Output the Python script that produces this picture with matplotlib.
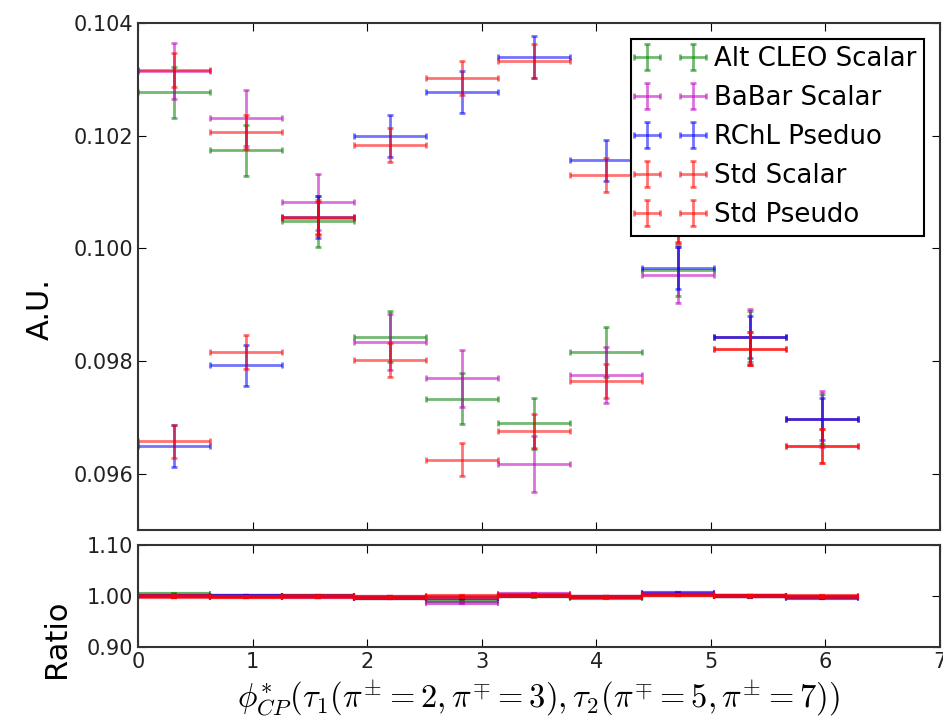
import numpy as np
import matplotlib
matplotlib.use("Agg")
import matplotlib.pyplot as plt
from matplotlib.ticker import FormatStrFormatter

plt.rcParams["font.family"] = ["DejaVu Sans"]
plt.rcParams["mathtext.fontset"] = "cm"

# bin edges: 10 bins over [0, 2pi]
bin_edges = np.linspace(0, 2 * np.pi, 11)
bin_centers = 0.5 * (bin_edges[:-1] + bin_edges[1:])
half_width = 0.5 * (bin_edges[1] - bin_edges[0])

labels = ["Alt CLEO Scalar", "BaBar Scalar", "RChL Pseduo", "Std Scalar", "Std Pseudo"]
colors = ["g", "m", "b", "r", "r"]

alt_cleo_scalar = [0.10277, 0.10174, 0.10048, 0.09843, 0.09733, 0.09689, 0.09816, 0.09961, 0.09843, 0.09697]
babar_scalar = [0.10315, 0.10231, 0.10082, 0.09834, 0.09769, 0.09617, 0.09775, 0.09953, 0.09843, 0.09697]
rchl_pseudo = [0.09649, 0.09792, 0.10056, 0.10199, 0.10278, 0.10340, 0.10156, 0.09965, 0.09843, 0.09697]
std_scalar = [0.10316, 0.10207, 0.10053, 0.09802, 0.09625, 0.09676, 0.09765, 0.10042, 0.09822, 0.09649]
std_pseudo = [0.09657, 0.09816, 0.10055, 0.10184, 0.10303, 0.10332, 0.10130, 0.10040, 0.09822, 0.09649]

errors = [0.00045, 0.0005, 0.00037, 0.0003, 0.0003]

ratio_alt_cleo = [1.003, 1.000, 0.999, 0.997, 0.991, 0.999, 0.997, 1.002, 0.999, 0.998]
ratio_babar = [0.999, 0.999, 0.998, 0.998, 0.987, 1.003, 0.998, 1.004, 1.000, 0.998]
ratio_rchl = [0.999, 0.999, 0.999, 0.997, 0.997, 1.000, 0.998, 1.005, 0.999, 0.997]
ratio_std_scalar = [0.998, 0.998, 0.998, 0.997, 0.998, 1.001, 0.998, 1.002, 1.000, 0.998]
ratio_std_pseudo = [0.999, 0.998, 0.999, 0.998, 0.999, 1.000, 0.998, 1.001, 0.999, 0.999]

series = [alt_cleo_scalar, babar_scalar, rchl_pseudo, std_scalar, std_pseudo]
ratios = [ratio_alt_cleo, ratio_babar, ratio_rchl, ratio_std_scalar, ratio_std_pseudo]

fig = plt.figure(figsize=(9.43, 7.2), dpi=100)
ax = fig.add_axes([0.1463, 0.264, 0.8505, 0.704])
rax = fig.add_axes([0.1463, 0.1014, 0.8505, 0.1417])

for vals, err, col, lab in zip(series, errors, colors, labels):
    ax.errorbar(bin_centers, vals, xerr=half_width, yerr=err, fmt="none",
                ecolor=col, elinewidth=2, capsize=2.5, capthick=2,
                alpha=0.55, label=lab)

for rvals, col in zip(ratios, colors):
    rax.errorbar(bin_centers, rvals, xerr=half_width, yerr=0.002, fmt="none",
                 ecolor=col, elinewidth=3, capsize=2.5, capthick=1.5,
                 alpha=0.6)

for a in (ax, rax):
    a.set_xlim(0, 7)
    a.tick_params(direction="in", top=True, right=True, length=6,
                  labelsize=15, labelcolor="#222222")
    for sp in a.spines.values():
        sp.set_linewidth(1.5)
        sp.set_color("#333333")

ax.set_ylim(0.095, 0.104)
ax.set_yticks([0.096, 0.098, 0.100, 0.102, 0.104])
ax.yaxis.set_major_formatter(FormatStrFormatter("%.3f"))
ax.set_xticks(range(0, 8))
ax.tick_params(labelbottom=False)
ax.set_ylabel("A.U.", fontsize=22)
ax.yaxis.set_label_coords(-0.104, 0.435)

rax.set_ylim(0.9, 1.1)
rax.set_yticks([0.9, 1.0, 1.1])
rax.yaxis.set_major_formatter(FormatStrFormatter("%.2f"))
rax.set_xticks(range(0, 8))
rax.set_ylabel("Ratio", fontsize=22)
rax.yaxis.set_label_coords(-0.083, 0.08)
rax.set_xlabel(r"$\phi^{*}_{CP}(\tau_1(\pi^{\pm}=2,\pi^{\mp}=3),\tau_2(\pi^{\mp}=5,\pi^{\pm}=7))$",
               fontsize=23.5, labelpad=4)

leg = ax.legend(loc="upper right", numpoints=2, fontsize=18.7, frameon=True,
                fancybox=False, framealpha=1.0, borderpad=0.3, labelspacing=0.5,
                handlelength=2.4, handletextpad=0.5, borderaxespad=0.6)
leg.get_frame().set_edgecolor("black")
leg.get_frame().set_linewidth(1.5)

fig.savefig("out.png", dpi=100)
